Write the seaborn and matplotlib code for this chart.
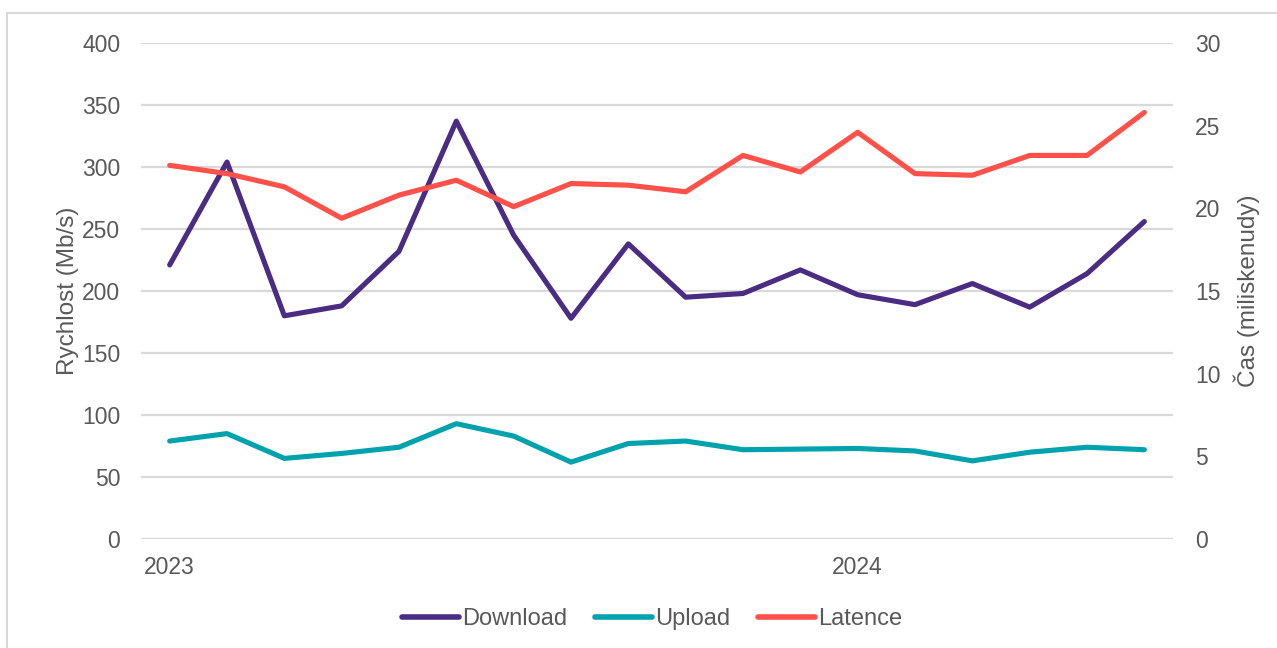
import matplotlib
matplotlib.use("Agg")
import matplotlib.pyplot as plt
from matplotlib.patches import Rectangle
import numpy as np
import pandas as pd
import seaborn as sns

# ===== data (monthly, Jan 2023 - Jun 2024) =====
months = list(range(18))
tick_labels = ["2023"] + [""] * 11 + ["2024"] + [""] * 5
download = [221, 304, 180, 188, 232, 337, 245, 178, 238, 195, 198, 217, 197, 189, 206, 187, 214, 256]
upload = [79, 85, 65, 69, 74, 93, 83, 62, 77, 79, 72, 72.5, 73, 71, 63, 70, 74, 72]
latence = [22.6, 22.1, 21.3, 19.4, 20.8, 21.7, 20.1, 21.5, 21.4, 21.0, 23.2, 22.2, 24.6, 22.1, 22.0, 23.2, 23.2, 25.8]

COLORS = {"Download": "#4B2C83", "Upload": "#00A3AD", "Latence": "#FF5049"}
TEXT = "#595959"
GRID = "#D9D9D9"

sns.set_theme(style="white")
plt.rcParams["font.family"] = ["Liberation Sans", "DejaVu Sans"]

speed_df = pd.DataFrame({
    "month": months * 2,
    "value": download + upload,
    "serie": ["Download"] * 18 + ["Upload"] * 18,
})
lat_df = pd.DataFrame({"month": months, "value": latence})

fig = plt.figure(figsize=(12.77, 6.48), dpi=100)
ax = fig.add_axes([141 / 1277, 1 - 539 / 648, 1032 / 1277, 496 / 648])
ax2 = ax.twinx()

for y in np.arange(0, 401, 50):
    ax.axhline(y, color=GRID, lw=1.6, zorder=0)

sns.lineplot(data=speed_df, x="month", y="value", hue="serie",
             palette=COLORS, lw=3.7, ax=ax, legend=False)
sns.lineplot(data=lat_df, x="month", y="value", color=COLORS["Latence"],
             lw=3.7, ax=ax2, legend=False)

for a in (ax, ax2):
    for s in a.spines.values():
        s.set_visible(False)
    a.set_xlim(-0.5, 17.5)
    a.tick_params(length=0, labelsize=16.5, colors=TEXT)

ax.set_ylim(0, 400)
ax.set_yticks(np.arange(0, 401, 50))
ax2.set_ylim(0, 30)
ax2.set_yticks(np.arange(0, 31, 5))
ax.set_xticks(months)
ax.set_xticklabels(tick_labels)
ax.tick_params(axis="x", pad=12)
ax.tick_params(axis="y", pad=15)
ax2.tick_params(axis="y", pad=16)

ax.set_xlabel("")
ax.set_ylabel("Rychlost (Mb/s)", fontsize=17.5, color=TEXT, labelpad=2)
ax2.set_xlabel("")
ax2.set_ylabel("Čas (miliskenudy)", fontsize=17.5, color=TEXT, labelpad=9)

handles = [plt.Line2D([], [], color=COLORS[k], lw=4, solid_capstyle="round") for k in COLORS]
fig.legend(handles, list(COLORS), loc="center", bbox_to_anchor=(652 / 1277, 1 - 619 / 648),
           ncol=3, frameon=False, fontsize=17, handlelength=2.45, handletextpad=0.12,
           columnspacing=1.15, labelcolor=TEXT)

# light chart frame
fig.patches.append(Rectangle((7 / 1277, -0.01), 1.0, 1 - 13 / 648 + 0.01,
                             transform=fig.transFigure, fill=False,
                             edgecolor=GRID, lw=1.5))

fig.savefig("out.png", dpi=100)
